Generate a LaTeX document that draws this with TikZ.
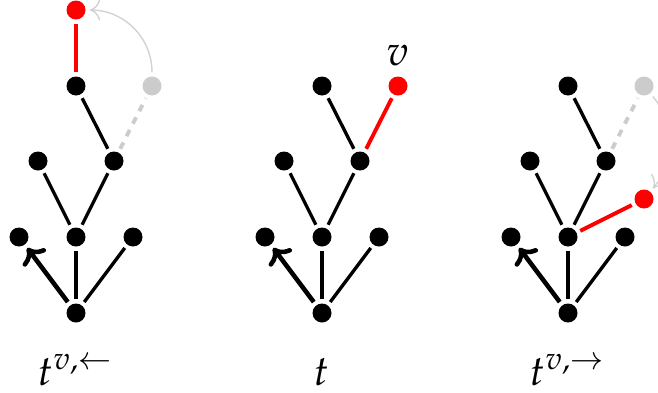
\documentclass[tikz,border=0pt]{standalone}
\usepackage{mathpazo}
\usepackage{xcolor}
\usepackage{tikz}
\usetikzlibrary{arrows.meta}
\definecolor{vred}{HTML}{FF0000}
\definecolor{vghost}{HTML}{CCCCCC}
\definecolor{vmove}{HTML}{D2D2D2}
\tikzset{
  vdot/.style={circle, fill=black, inner sep=0, minimum size=0.19cm, outer sep=1.2pt},
  vdotred/.style={vdot, fill=vred},
  vdotghost/.style={vdot, fill=vghost},
  tedge/.style={black, line width=0.95pt},
  tedgered/.style={vred, line width=1.1pt},
  tedgeghost/.style={vghost, line width=1.1pt, dash pattern=on 2pt off 2pt},
  tarrow/.style={black, line width=1.3pt, -{Computer Modern Rightarrow[length=4pt, width=8pt]}},
  moved/.style={vmove, line width=0.4pt, -{Computer Modern Rightarrow[length=3pt, width=6pt]}},
  tname/.style={font=\large, inner sep=1pt},
}
\begin{document}
\begin{tikzpicture}[x=1cm, y=1cm]
  \useasboundingbox (0,0) rectangle (6.58,3.92);

  %% left tree: t^{v,<-}
  \node[vdot] (l0) at (0.76,0.79) {};
  \node[vdot] (l1a) at (0.19,1.55) {};
  \node[vdot] (l1b) at (0.76,1.55) {};
  \node[vdot] (l1c) at (1.33,1.55) {};
  \node[vdot] (l2a) at (0.38,2.31) {};
  \node[vdot] (l2b) at (1.14,2.31) {};
  \node[vdot] (l3a) at (0.76,3.06) {};
  \node[vdotghost] (l3b) at (1.52,3.06) {};
  \node[vdotred] (lv) at (0.76,3.82) {};
  \draw[tarrow] (l0) -- (l1a);
  \draw[tedge] (l0) -- (l1b);
  \draw[tedge] (l0) -- (l1c);
  \draw[tedge] (l1b) -- (l2a);
  \draw[tedge] (l1b) -- (l2b);
  \draw[tedge] (l2b) -- (l3a);
  \draw[tedgeghost] (l2b) -- (l3b);
  \draw[tedgered] (l3a) -- (lv);
  \draw[moved] (l3b) to[bend right=45] (lv);
  \node[tname] (lname) at (0.76,0.22) {$t^{v,\leftarrow}$};

  %% middle tree: t
  \node[vdot] (m0) at (3.22,0.79) {};
  \node[vdot] (m1a) at (2.65,1.55) {};
  \node[vdot] (m1b) at (3.22,1.55) {};
  \node[vdot] (m1c) at (3.79,1.55) {};
  \node[vdot] (m2a) at (2.84,2.31) {};
  \node[vdot] (m2b) at (3.60,2.31) {};
  \node[vdot] (m3a) at (3.22,3.06) {};
  \node[vdotred, label={[tname, label distance=0.02cm]above:$v$}] (mv) at (3.98,3.06) {};
  \draw[tarrow] (m0) -- (m1a);
  \draw[tedge] (m0) -- (m1b);
  \draw[tedge] (m0) -- (m1c);
  \draw[tedge] (m1b) -- (m2a);
  \draw[tedge] (m1b) -- (m2b);
  \draw[tedge] (m2b) -- (m3a);
  \draw[tedgered] (m2b) -- (mv);
  \node[tname] (mname) at (3.22,0.20) {$t$};

  %% right tree: t^{v,->}
  \node[vdot] (r0) at (5.68,0.79) {};
  \node[vdot] (r1a) at (5.11,1.55) {};
  \node[vdot] (r1b) at (5.68,1.55) {};
  \node[vdot] (r1c) at (6.25,1.55) {};
  \node[vdot] (r2a) at (5.30,2.31) {};
  \node[vdot] (r2b) at (6.06,2.31) {};
  \node[vdot] (r3a) at (5.68,3.06) {};
  \node[vdotghost] (r3b) at (6.44,3.06) {};
  \node[vdotred] (rv) at (6.44,1.93) {};
  \draw[tarrow] (r0) -- (r1a);
  \draw[tedge] (r0) -- (r1b);
  \draw[tedge] (r0) -- (r1c);
  \draw[tedge] (r1b) -- (r2a);
  \draw[tedge] (r1b) -- (r2b);
  \draw[tedge] (r2b) -- (r3a);
  \draw[tedgeghost] (r2b) -- (r3b);
  \draw[tedgered] (r1b) -- (rv);
  \draw[moved] (r3b) to[bend left=40] (rv);
  \node[tname] (rname) at (5.68,0.22) {$t^{v,\rightarrow}$};

\end{tikzpicture}
\end{document}
